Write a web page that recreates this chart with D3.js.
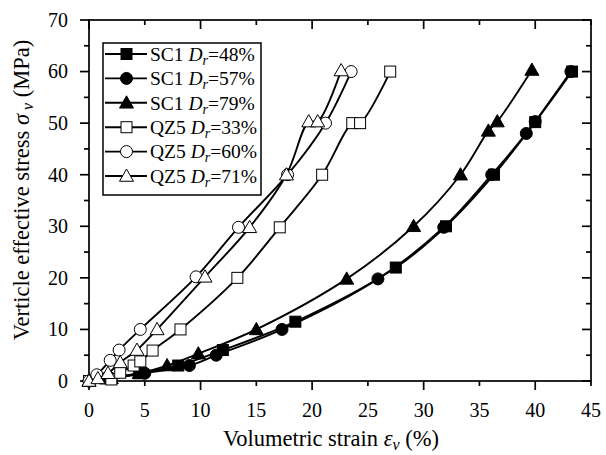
<!DOCTYPE html>
<html>
<head>
<meta charset="utf-8">
<script src="https://cdn.jsdelivr.net/npm/d3@7"></script>
<style>
  html, body { margin: 0; padding: 0; background: #fff; }
  svg { display: block; }
</style>
</head>
<body>
<svg id="chart" width="606" height="455" font-family="'Liberation Serif', 'Times New Roman', Times, serif"></svg>
<script>
// Volumetric strain (%) vs. vertical effective stress (MPa) for each sample
const seriesNames = ["SC1", "SC1", "SC1", "QZ5", "QZ5", "QZ5"];
const seriesDr = ["48%", "57%", "79%", "33%", "60%", "71%"];
const seriesSymbols = ["square", "circle", "triangle", "square", "circle", "triangle"];
const seriesFilled = [true, true, true, false, false, false];

const sc1_48_strain = [0, 1.5, 4.5, 8.0, 12.0, 18.5, 27.5, 32.0, 36.3, 40.0, 43.3];
const sc1_48_stress = [0, 0.5, 1.5, 3.0, 6.0, 11.5, 22.0, 30.0, 40.0, 50.2, 60.0];

const sc1_57_strain = [0, 2.0, 5.0, 9.0, 11.4, 17.3, 25.9, 31.8, 36.1, 39.2, 40.0, 43.2];
const sc1_57_stress = [0, 0.5, 1.5, 3.0, 5.0, 10.0, 19.8, 29.8, 40.0, 48.0, 50.3, 60.0];

const sc1_79_strain = [0, 2.0, 4.5, 7.0, 9.8, 15.0, 23.1, 29.1, 33.3, 35.8, 36.6, 39.7];
const sc1_79_stress = [0, 0.5, 1.5, 3.0, 5.3, 10.0, 19.8, 30.0, 40.0, 48.5, 50.3, 60.3];

const qz5_33_strain = [0, 2.0, 2.8, 4.0, 4.6, 5.7, 8.2, 13.3, 17.1, 20.9, 23.6, 24.3, 27.0];
const qz5_33_stress = [0, 0.3, 1.6, 3.0, 3.8, 5.9, 10.0, 20.0, 29.8, 40.0, 50.0, 50.0, 60.0];

const qz5_60_strain = [0, 0.7, 1.9, 2.7, 4.6, 9.6, 13.4, 17.8, 21.2, 23.5];
const qz5_60_stress = [0, 1.2, 4.0, 6.0, 10.0, 20.2, 29.8, 40.0, 50.0, 60.0];

const qz5_71_strain = [0, 0.8, 1.7, 2.8, 4.3, 6.1, 10.4, 14.4, 17.7, 19.7, 20.5, 22.6];
const qz5_71_stress = [0, 0.5, 1.5, 3.6, 6.0, 10.0, 20.2, 29.8, 40.0, 50.3, 50.3, 60.2];

const seriesStrain = [sc1_48_strain, sc1_57_strain, sc1_79_strain, qz5_33_strain, qz5_60_strain, qz5_71_strain];
const seriesStress = [sc1_48_stress, sc1_57_stress, sc1_79_stress, qz5_33_stress, qz5_60_stress, qz5_71_stress];

const xTickValues = [0, 5, 10, 15, 20, 25, 30, 35, 40, 45];
const yTickValues = [0, 10, 20, 30, 40, 50, 60, 70];

const svg = d3.select("#chart");
const plot = { left: 89, right: 591, top: 20, bottom: 381 };

const x = d3.scaleLinear().domain([0, 45]).range([plot.left, plot.right]);
const y = d3.scaleLinear().domain([0, 70]).range([plot.bottom, plot.top]);

// Frame
svg.append("rect")
  .attr("x", plot.left).attr("y", plot.top)
  .attr("width", plot.right - plot.left).attr("height", plot.bottom - plot.top)
  .attr("fill", "none").attr("stroke", "#000").attr("stroke-width", 1.7);

// Ticks: majors every 10, minors in between; outward on bottom/left, inward on top/right
const xMajor = d3.range(0, 46, 10);
const xMinor = d3.range(5, 46, 10);
const yMajor = d3.range(0, 71, 10);
const yMinor = d3.range(5, 71, 10);
const ticks = svg.append("g").attr("stroke", "#000").attr("stroke-width", 1.7);
function xTick(v, len) {
  ticks.append("line").attr("x1", x(v)).attr("x2", x(v)).attr("y1", plot.bottom).attr("y2", plot.bottom + len);
  ticks.append("line").attr("x1", x(v)).attr("x2", x(v)).attr("y1", plot.top).attr("y2", plot.top + len);
}
function yTick(v, len) {
  ticks.append("line").attr("y1", y(v)).attr("y2", y(v)).attr("x1", plot.left).attr("x2", plot.left - len);
  ticks.append("line").attr("y1", y(v)).attr("y2", y(v)).attr("x1", plot.right).attr("x2", plot.right - len);
}
xMajor.forEach(v => xTick(v, 9));
xMinor.forEach(v => xTick(v, 5));
yMajor.forEach(v => yTick(v, 9));
yMinor.forEach(v => yTick(v, 5));

// Tick labels
svg.append("g").selectAll("text").data(xTickValues).join("text")
  .attr("x", d => x(d)).attr("y", plot.bottom + 36)
  .attr("text-anchor", "middle").attr("font-size", 20)
  .text(d => d);
svg.append("g").selectAll("text").data(yTickValues).join("text")
  .attr("x", plot.left - 21).attr("y", d => y(d)).attr("dy", "0.34em")
  .attr("text-anchor", "end").attr("font-size", 20)
  .text(d => d);

// Axis titles
const xt = svg.append("text").attr("x", 331).attr("y", 446).attr("text-anchor", "middle").attr("font-size", 22.5);
xt.append("tspan").text("Volumetric strain ");
xt.append("tspan").attr("font-style", "italic").text("ε");
xt.append("tspan").attr("font-style", "italic").attr("font-size", 16).attr("dy", 4).text("ν");
xt.append("tspan").attr("dy", -4).text(" (%)");

const yt = svg.append("text").attr("transform", "translate(29,190) rotate(-90)")
  .attr("text-anchor", "middle").attr("font-size", 22.5);
yt.append("tspan").text("Verticle effective stress ");
yt.append("tspan").attr("font-style", "italic").text("σ");
yt.append("tspan").attr("font-style", "italic").attr("font-size", 16).attr("dy", 4).text(" ν");
yt.append("tspan").attr("dy", -4).text(" (MPa)");

// Symbols
function drawSymbol(g, type, filled, cx, cy) {
  const fill = filled ? "#000" : "#fff";
  if (type === "square") {
    g.append("rect").attr("x", cx - 5.5).attr("y", cy - 5.5).attr("width", 11).attr("height", 11)
      .attr("fill", fill).attr("stroke", "#000").attr("stroke-width", 1);
  } else if (type === "circle") {
    g.append("circle").attr("cx", cx).attr("cy", cy).attr("r", 6)
      .attr("fill", fill).attr("stroke", "#000").attr("stroke-width", 1);
  } else {
    const s = 7;
    g.append("path").attr("d", `M${cx},${cy - s}L${cx + s},${cy + s * 0.75}L${cx - s},${cy + s * 0.75}Z`)
      .attr("fill", fill).attr("stroke", "#000").attr("stroke-width", 1);
  }
}

const line = d3.line().x(d => x(d[0])).y(d => y(d[1])).curve(d3.curveCatmullRom.alpha(0.5));

seriesStrain.forEach((xs, i) => {
  const pts = xs.map((v, j) => [v, seriesStress[i][j]]);
  const g = svg.append("g");
  g.append("path").attr("d", line(pts)).attr("fill", "none").attr("stroke", "#000").attr("stroke-width", 1.9);
  pts.forEach(p => drawSymbol(g, seriesSymbols[i], seriesFilled[i], x(p[0]), y(p[1])));
});

// Legend
const legend = { x: 103, y: 43, w: 158, h: 152, row0: 54, step: 24.4 };
svg.append("rect").attr("x", legend.x).attr("y", legend.y).attr("width", legend.w).attr("height", legend.h)
  .attr("fill", "#fff").attr("stroke", "#000").attr("stroke-width", 1.5);
seriesNames.forEach((name, i) => {
  const cy = legend.row0 + i * legend.step;
  const g = svg.append("g");
  g.append("line").attr("x1", 105).attr("x2", 147).attr("y1", cy).attr("y2", cy)
    .attr("stroke", "#000").attr("stroke-width", 1.9);
  drawSymbol(g, seriesSymbols[i], seriesFilled[i], 126.5, cy);
  const t = g.append("text").attr("x", 150).attr("y", cy).attr("dy", "0.35em").attr("font-size", 19.5);
  t.append("tspan").text(name + " ");
  t.append("tspan").attr("font-style", "italic").text("D");
  t.append("tspan").attr("font-style", "italic").attr("font-size", 14).attr("dy", 4).text("r");
  t.append("tspan").attr("dy", -4).text("=" + seriesDr[i]);
});
</script>
</body>
</html>
